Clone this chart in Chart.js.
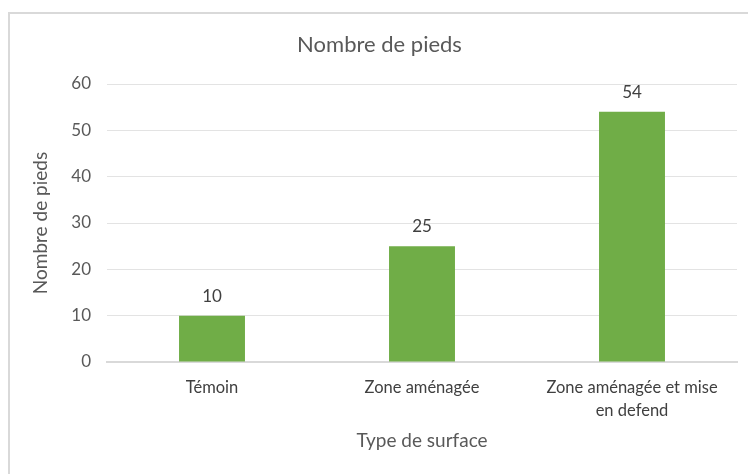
<!DOCTYPE html>
<html>
<head>
<meta charset="utf-8">
<script src="https://cdn.jsdelivr.net/npm/chart.js@4"></script>
<style>
  body { margin: 0; background: #fff; }
  #wrap { position: relative; width: 748px; height: 474px; overflow: hidden; }
  #frame { position: absolute; left: 8px; top: 12px; width: 760px; height: 480px; border: 2px solid #d9d9d9; box-sizing: border-box; }
  canvas { position: absolute; left: 0; top: 0; }
</style>
</head>
<body>
<div id="wrap">
  <div id="frame"></div>
  <canvas id="chart" width="748" height="474"></canvas>
</div>
<script>
const categories = ['Témoin', 'Zone aménagée', ['Zone aménagée et mise', 'en defend']];
const pieds = [10, 25, 54];
const yTicks = [0, 10, 20, 30, 40, 50, 60];

const FONT = 'Lato, "Open Sans", sans-serif';

// étiquettes de valeur au-dessus des barres
const valueLabels = {
    id: 'valueLabels',
    afterDatasetsDraw(chart) {
        const ctx = chart.ctx;
        const meta = chart.getDatasetMeta(0);
        ctx.save();
        ctx.font = '17px ' + FONT;
        ctx.fillStyle = '#404040';
        ctx.textAlign = 'center';
        ctx.textBaseline = 'bottom';
        meta.data.forEach((bar, i) => {
            ctx.fillText(chart.data.datasets[0].data[i], bar.x, bar.y - 11);
        });
        ctx.restore();
    }
};

new Chart(document.getElementById('chart'), {
    type: 'bar',
    data: {
        labels: categories,
        datasets: [{
            data: pieds,
            backgroundColor: '#70ad47',
            categoryPercentage: 1,
            barPercentage: 0.314,
        }],
    },
    options: {
        responsive: false,
        animation: false,
        layout: { padding: { left: 22, right: 11, top: 0, bottom: 18 } },
        plugins: {
            legend: { display: false },
            tooltip: { enabled: false },
            title: {
                display: true,
                text: 'Nombre de pieds',
                color: '#595959',
                font: { family: FONT, size: 22, weight: 'normal' },
                padding: { top: 32, bottom: 25.6 },
            },
        },
        scales: {
            x: {
                afterFit(scale) { scale.height = 94; },
                grid: { display: false, drawTicks: false },
                border: { color: '#d9d9d9', width: 2 },
                ticks: {
                    color: '#404040',
                    font: { family: FONT, size: 16.5, lineHeight: 1.35 },
                    padding: 15,
                    maxRotation: 0,
                },
                title: {
                    display: true,
                    text: 'Type de surface',
                    color: '#595959',
                    font: { family: FONT, size: 19 },
                    padding: { top: 0, bottom: 3.6 },
                },
            },
            y: {
                min: 0,
                max: 60,
                afterFit(scale) { scale.width = 85; },
                afterBuildTicks(scale) {
                    scale.ticks = yTicks.map(v => ({ value: v }));
                },
                grid: { color: '#e3e3e3', drawTicks: false },
                border: { display: false },
                ticks: {
                    color: '#595959',
                    font: { family: FONT, size: 17 },
                    padding: 16,
                },
                title: {
                    display: true,
                    text: 'Nombre de pieds',
                    color: '#595959',
                    font: { family: FONT, size: 19 },
                    padding: { top: 7.6, bottom: 0 },
                },
            },
        },
    },
    plugins: [valueLabels],
});
</script>
</body>
</html>
